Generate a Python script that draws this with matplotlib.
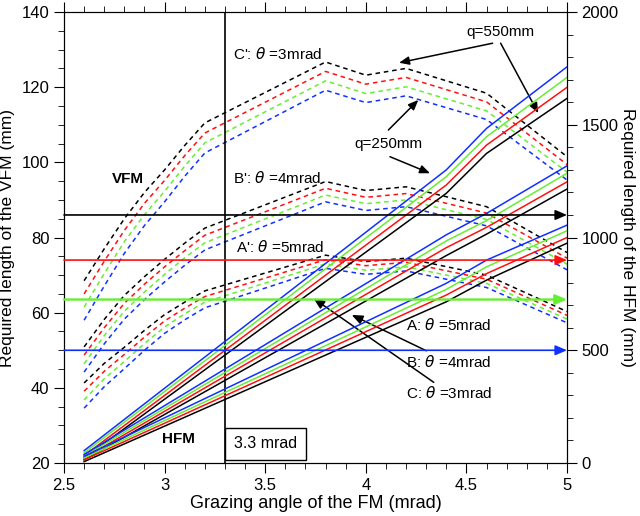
# -*- coding: utf-8 -*-
# Required mirror lengths of the VFM / HFM vs grazing angle of the FM
import matplotlib
matplotlib.use("Agg")
import matplotlib.pyplot as plt
from matplotlib.ticker import MultipleLocator

plt.rcParams['font.family'] = ['Liberation Sans', 'DejaVu Sans']

# VFM (dashed, left axis, mm)
x_vfm = [2.6, 2.7, 2.8, 2.9, 3.0, 3.1, 3.2, 3.8, 4.0, 4.2, 4.6, 5.0]
c_black = [68.5, 77.0, 85.0, 92.0, 98.0, 104.5, 110.5, 126.7, 123.2, 125.0, 118.4, 101.5]
c_red = [65.0, 73.7, 81.9, 89.1, 95.2, 101.8, 107.8, 124.2, 120.8, 122.6, 116.1, 99.4]
c_green = [61.5, 70.4, 78.9, 86.1, 92.3, 99.0, 105.2, 121.7, 118.3, 120.1, 113.7, 97.4]
c_blue = [58.0, 67.1, 75.8, 83.2, 89.5, 96.3, 102.5, 119.2, 115.9, 117.7, 111.4, 95.3]
b_black = [50.9, 58.2, 64.6, 69.6, 74.2, 78.5, 82.5, 94.9, 92.5, 93.5, 88.2, 76.0]
b_red = [48.7, 56.0, 62.5, 67.6, 72.2, 76.5, 80.6, 93.1, 90.7, 91.7, 86.5, 74.5]
b_green = [46.4, 53.9, 60.4, 65.5, 70.2, 74.6, 78.6, 91.3, 89.0, 90.0, 84.8, 72.9]
b_blue = [44.2, 51.7, 58.3, 63.5, 68.2, 72.6, 76.7, 89.5, 87.2, 88.2, 83.1, 71.4]
a_black = [41.3, 46.5, 50.8, 55.3, 59.5, 62.8, 65.8, 75.3, 73.6, 74.5, 70.0, 60.3]
a_red = [39.1, 44.4, 48.9, 53.5, 57.8, 61.2, 64.3, 74.1, 72.5, 73.4, 68.9, 59.3]
a_green = [36.8, 42.4, 47.0, 51.8, 56.2, 59.7, 62.8, 73.0, 71.3, 72.2, 67.8, 58.3]
a_blue = [34.6, 40.3, 45.1, 50.0, 54.5, 58.1, 61.3, 71.8, 70.2, 71.1, 66.7, 57.3]

# HFM (solid, right axis, mm)
x_hfm = [2.6, 4.4, 4.6, 5.0]
hc_blue = [55, 1300, 1484, 1757]
hc_green = [45, 1270, 1447, 1710]
hc_red = [33, 1233, 1410, 1666]
hc_black = [22, 1196, 1373, 1617]
hb_blue = [38, 1012, 1107, 1318]
hb_green = [30, 985, 1075, 1285]
hb_red = [22, 955, 1045, 1247]
hb_black = [14, 920, 1015, 1215]
ha_blue = [30, 797, 900, 1055]
ha_green = [22, 770, 870, 1030]
ha_red = [14, 745, 840, 1000]
ha_black = [6, 715, 811, 975]

# horizontal marker lines (HFM length, mm)
h_levels = [1100, 900, 725, 500]

BLUE = '#1030ff'
RED = '#ff1010'
GREEN = '#66ee33'
BLACK = 'black'

fig = plt.figure(figsize=(6.4, 5.16), dpi=100)
ax = fig.add_axes([0.1, 0.1027, 0.786, 0.874])
ax2 = ax.twinx()

# dashed VFM curves
for blk, red, grn, blu in [(c_black, c_red, c_green, c_blue),
                           (b_black, b_red, b_green, b_blue),
                           (a_black, a_red, a_green, a_blue)]:
    for ys, col in [(blk, BLACK), (red, RED), (grn, GREEN), (blu, BLUE)]:
        ax.plot(x_vfm, ys, color=col, lw=1.1, ls=(0, (3, 2.5)))

# solid HFM lines
for blk, red, grn, blu in [(hc_black, hc_red, hc_green, hc_blue),
                           (hb_black, hb_red, hb_green, hb_blue),
                           (ha_black, ha_red, ha_green, ha_blue)]:
    for ys, col in [(blk, BLACK), (red, RED), (grn, GREEN), (blu, BLUE)]:
        ax2.plot(x_hfm, ys, color=col, lw=1.1)

# horizontal arrows
for lev, col, lw in zip(h_levels, [BLACK, RED, GREEN, BLUE], [1.2, 1.2, 1.7, 1.2]):
    ax2.annotate('', xy=(5.0, lev), xytext=(2.5, lev),
                 arrowprops=dict(arrowstyle='-|>,head_length=0.7,head_width=0.3',
                                 color=col, lw=lw, shrinkA=0, shrinkB=0))

# vertical 3.3 mrad line
ax.axvline(3.3, color='black', lw=1.2)

ax.set_xlim(2.5, 5)
ax.set_ylim(20, 140)
ax2.set_ylim(0, 2000)

ax.xaxis.set_major_locator(MultipleLocator(0.5))
ax.xaxis.set_minor_locator(MultipleLocator(0.1))
ax.yaxis.set_major_locator(MultipleLocator(20))
ax.yaxis.set_minor_locator(MultipleLocator(5))
ax2.yaxis.set_major_locator(MultipleLocator(500))
ax2.yaxis.set_minor_locator(MultipleLocator(100))
ax.set_xticks([2.5, 3, 3.5, 4, 4.5, 5])
ax.set_xticklabels(['2.5', '3', '3.5', '4', '4.5', '5'])

ax.tick_params(axis='x', which='both', top=True, direction='out', labelsize=12)
ax.tick_params(axis='x', which='major', length=7)
ax.tick_params(axis='x', which='minor', length=4)
ax.tick_params(axis='y', which='major', length=7, labelsize=12)
ax.tick_params(axis='y', which='minor', length=4)
ax2.tick_params(axis='y', which='major', length=7, labelsize=12)
ax2.tick_params(axis='y', which='minor', length=4)

ax.set_xlabel('Grazing angle of the FM (mrad)', fontsize=13, labelpad=2)
ax.set_ylabel('Required length of the VFM (mm)', fontsize=12.5)
ax.yaxis.set_label_coords(-0.098, 0.5)
ax2.set_ylabel('Required length of the HFM (mm)', fontsize=12.5, rotation=-90, va='center')
ax2.yaxis.set_label_coords(1.12, 0.5)

fs = 11
# text labels
ax.text(3.34, 128.8, "C': $\\theta$ =3mrad", fontsize=fs, va='center')
ax.text(3.34, 95.8, "B': $\\theta$ =4mrad", fontsize=fs, va='center')
ax.text(3.355, 77.6, "A': $\\theta$ =5mrad", fontsize=fs, va='center')
ax.text(2.82, 95.7, 'VFM', fontsize=fs, fontweight='bold', ha='center', va='center')
ax.text(3.07, 26.3, 'HFM', fontsize=fs, fontweight='bold', ha='center', va='center')
ax.text(3.5, 25.1, '3.3 mrad', fontsize=11.5, ha='center', va='center',
        bbox=dict(boxstyle='square,pad=0.55', fc='white', ec='black', lw=1))

arrow_kw = dict(arrowstyle='-|>,head_length=0.6,head_width=0.25',
                color='black', lw=1.1, shrinkA=0, shrinkB=0)
ax.text(4.2, 56.7, 'A: $\\theta$ =5mrad', fontsize=fs, va='center')
ax.annotate('B: $\\theta$ =4mrad', xy=(3.93, 59.4), xytext=(4.2, 47.0),
            fontsize=fs, va='center', arrowprops=arrow_kw)
ax.annotate('C: $\\theta$ =3mrad', xy=(3.74, 63.8), xytext=(4.2, 38.6),
            fontsize=fs, va='center', arrowprops=arrow_kw)

ax.text(4.667, 134.7, 'q=550mm', fontsize=fs, ha='center', va='center')
ax.annotate('', xy=(4.165, 126.5), xytext=(4.63, 131.7), arrowprops=arrow_kw)
ax.annotate('', xy=(4.857, 113.1), xytext=(4.67, 131.7), arrowprops=arrow_kw)
ax.text(4.11, 104.8, 'q=250mm', fontsize=fs, ha='center', va='center')
ax.annotate('', xy=(4.261, 116.6), xytext=(4.112, 108.6), arrowprops=arrow_kw)
ax.annotate('', xy=(4.319, 97.1), xytext=(4.12, 101.5), arrowprops=arrow_kw)

fig.savefig('out.png', dpi=100)
